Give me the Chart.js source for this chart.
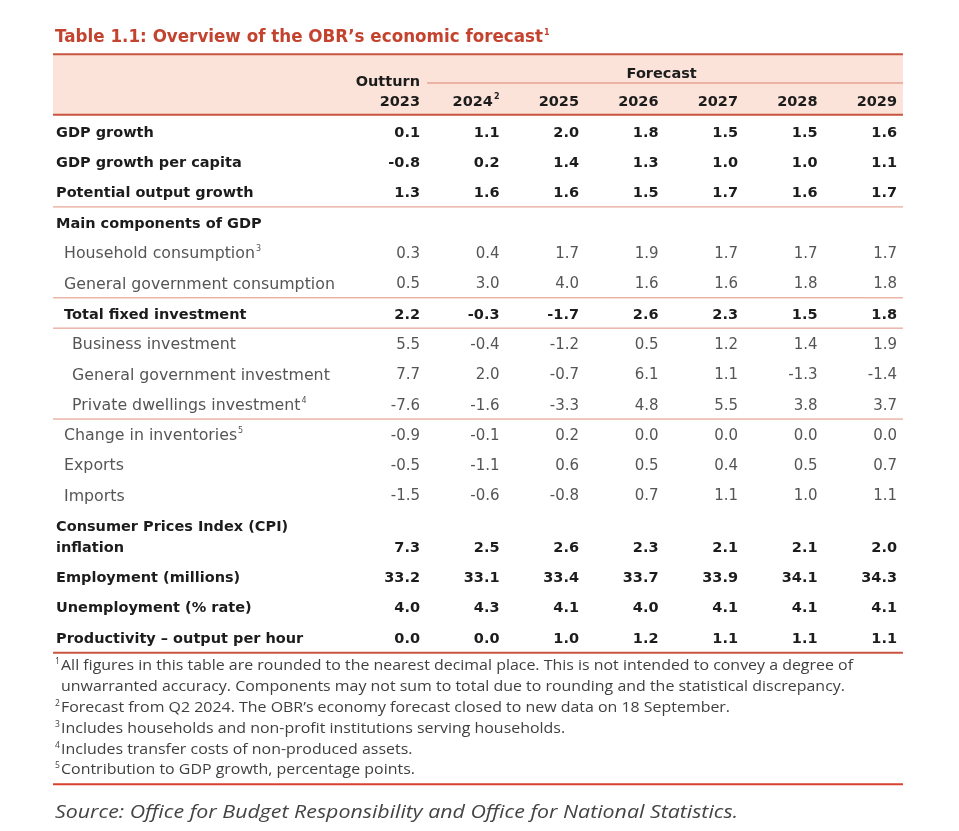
<!DOCTYPE html>
<html><head><meta charset="utf-8">
<script src="https://cdn.jsdelivr.net/npm/chart.js@4/dist/chart.umd.min.js"></script>
<style>html,body{margin:0;padding:0;background:#fff}#wrap{width:959px;height:831px;position:relative}</style>
</head><body><div id="wrap"><canvas id="c"></canvas></div>
<script>
// ---------- DATA ----------
const years = ['2023','2024','2025','2026','2027','2028','2029'];
const yearNotes = ['','2','','','','',''];
const rowLabels = [
  'GDP growth','GDP growth per capita','Potential output growth','Main components of GDP',
  'Household consumption','General government consumption','Total fixed investment',
  'Business investment','General government investment','Private dwellings investment',
  'Change in inventories','Exports','Imports','Consumer Prices Index (CPI)\ninflation',
  'Employment (millions)','Unemployment (% rate)','Productivity \u2013 output per hour'
];
const rowNotes = ['','','','','3','','','','','4','5','','','','','',''];
const gdpGrowth       = [0.1, 1.1, 2.0, 1.8, 1.5, 1.5, 1.6];
const gdpPerCapita    = [-0.8, 0.2, 1.4, 1.3, 1.0, 1.0, 1.1];
const potentialOutput = [1.3, 1.6, 1.6, 1.5, 1.7, 1.6, 1.7];
const householdCons   = [0.3, 0.4, 1.7, 1.9, 1.7, 1.7, 1.7];
const govConsumption  = [0.5, 3.0, 4.0, 1.6, 1.6, 1.8, 1.8];
const totalFixedInv   = [2.2, -0.3, -1.7, 2.6, 2.3, 1.5, 1.8];
const businessInv     = [5.5, -0.4, -1.2, 0.5, 1.2, 1.4, 1.9];
const govInvestment   = [7.7, 2.0, -0.7, 6.1, 1.1, -1.3, -1.4];
const dwellingsInv    = [-7.6, -1.6, -3.3, 4.8, 5.5, 3.8, 3.7];
const inventories     = [-0.9, -0.1, 0.2, 0.0, 0.0, 0.0, 0.0];
const exportsGrowth   = [-0.5, -1.1, 0.6, 0.5, 0.4, 0.5, 0.7];
const importsGrowth   = [-1.5, -0.6, -0.8, 0.7, 1.1, 1.0, 1.1];
const cpiInflation    = [7.3, 2.5, 2.6, 2.3, 2.1, 2.1, 2.0];
const employment      = [33.2, 33.1, 33.4, 33.7, 33.9, 34.1, 34.3];
const unemployment    = [4.0, 4.3, 4.1, 4.0, 4.1, 4.1, 4.1];
const productivity    = [0.0, 0.0, 1.0, 1.2, 1.1, 1.1, 1.1];
const rowSeries = [gdpGrowth, gdpPerCapita, potentialOutput, null, householdCons, govConsumption,
  totalFixedInv, businessInv, govInvestment, dwellingsInv, inventories, exportsGrowth,
  importsGrowth, cpiInflation, employment, unemployment, productivity];
const titleText = 'Table 1.1: Overview of the OBR\u2019s economic forecast';
const footnotes = [
  ['1','All figures in this table are rounded to the nearest decimal place. This is not intended to convey a degree of'],
  ['','unwarranted accuracy. Components may not sum to total due to rounding and the statistical discrepancy.'],
  ['2','Forecast from Q2 2024. The OBR\u2019s economy forecast closed to new data on 18 September.'],
  ['3','Includes households and non-profit institutions serving households.'],
  ['4','Includes transfer costs of non-produced assets.'],
  ['5','Contribution to GDP growth, percentage points.']
];
const sourceText = 'Source: Office for Budget Responsibility and Office for National Statistics.';

// ---------- STYLE ----------
const rowBold   = [1,1,1,1,0,0,1,0,0,0,0,0,0,1,1,1,1];
const rowIndent = [0,0,0,0,1,1,1,2,2,2,1,1,1,0,0,0,0];
const rulesAfter = [2,5,6,9];
const LINE_STEP = 0.7;
const RED = '#c4432f', RULE_RED = '#c9543f', THIN = '#e0907e', HEAD_BG = '#fbe3d9';
const DARK = '#1c1c1c', GREY = '#555555', FOOT = '#3f3f3f';
const F_BOLD = 'bold 14.5px "DejaVu Sans"';
const F_REG = '15px "DejaVu Sans"';
const F_REG_LAB = '15.8px "DejaVu Sans"';
const U = { title:-3.14, forecast:-1.95, outturn:-1.68, fLine:-1.65, years:-1.02,
  headTop:-2.6, headBot:-0.6, foot0:17.59, footStep:0.687, footRule:21.49, source:22.44 };

// row layout (units of the row axis)
const rowPos = []; let u = 0;
rowLabels.forEach((l) => {
  const n = l.split('\n').length;
  const top = u, val = u + LINE_STEP * (n - 1);
  rowPos.push({top, val}); u = val + 1;
});

const datasets = [];
rowSeries.forEach((s, r) => {
  if (!s) return;
  datasets.push({
    label: rowLabels[r].replace('\n',' '), rowIndex: r,
    data: s.map((v, i) => ({x: i, y: rowPos[r].val, v})),
    pointRadius: 0, pointHoverRadius: 0, showLine: false
  });
});

function txt(ctx, s, x, y, font, color, align, fitW) {
  ctx.save(); ctx.font = font; ctx.fillStyle = color; ctx.textBaseline = 'middle';
  ctx.textAlign = align || 'left';
  if (fitW) {
    const w = ctx.measureText(s).width; const k = fitW / w;
    ctx.translate(x, y); ctx.scale(k, 1); ctx.fillText(s, 0, 0);
  } else ctx.fillText(s, x, y);
  ctx.restore();
}
function hline(ctx, x1, x2, y, color, w) {
  ctx.save(); ctx.strokeStyle = color; ctx.lineWidth = w; ctx.beginPath();
  ctx.moveTo(x1, y); ctx.lineTo(x2, y); ctx.stroke(); ctx.restore();
}
const fmt = (v) => v.toFixed(1);

const tablePlugin = {
  id: 'table',
  afterDraw(chart) {
    const ctx = chart.ctx, xs = chart.scales.x, ys = chart.scales.y;
    const Y = (v) => ys.getPixelForValue(v), X = (v) => xs.getPixelForValue(v);
    const L = X(-4.616), R = X(6.075);
    // title
    const tw = 488;
    txt(ctx, titleText, L + 2, Y(U.title), 'bold 17.5px "DejaVu Sans"', RED, 'left', tw);
    txt(ctx, '1', L + 2 + tw + 1, Y(U.title) - 5, 'bold 8px "DejaVu Sans"', RED, 'left');
    // header
    ctx.fillStyle = HEAD_BG; ctx.fillRect(L, Y(U.headTop), R - L, Y(U.headBot) - Y(U.headTop));
    hline(ctx, L, R, Y(U.headTop), RULE_RED, 2);
    hline(ctx, L, R, Y(U.headBot), RULE_RED, 2);
    txt(ctx, 'Forecast', X(3.04), Y(U.forecast), F_BOLD, DARK, 'center');
    txt(ctx, 'Outturn', X(0), Y(U.outturn), F_BOLD, DARK, 'right');
    hline(ctx, X(0.088), R, Y(U.fLine), '#d98370', 1);
    years.forEach((yr, i) => {
      let x = X(i);
      if (yearNotes[i]) {
        ctx.font = 'bold 8px "DejaVu Sans"'; const nw = ctx.measureText(yearNotes[i]).width;
        txt(ctx, yearNotes[i], x, Y(U.years) - 5, 'bold 8px "DejaVu Sans"', DARK, 'right');
        x -= nw + 1;
      }
      txt(ctx, yr, x, Y(U.years), F_BOLD, DARK, 'right');
    });
    // row labels
    const indentPx = [3, 11, 19];
    rowLabels.forEach((lab, r) => {
      const font = rowBold[r] ? F_BOLD : F_REG_LAB, col = rowBold[r] ? DARK : GREY;
      const lines = lab.split('\n'); const x0 = L + indentPx[rowIndent[r]];
      lines.forEach((ln, k) => txt(ctx, ln, x0, Y(rowPos[r].top + k * LINE_STEP), font, col, 'left'));
      if (rowNotes[r]) {
        ctx.font = font; const w = ctx.measureText(lines[lines.length-1]).width;
        txt(ctx, rowNotes[r], x0 + w + 1, Y(rowPos[r].val) - 5, '8px "DejaVu Sans"', col, 'left');
      }
    });
    // values from dataset elements
    chart.data.datasets.forEach((ds, di) => {
      const meta = chart.getDatasetMeta(di); const r = ds.rowIndex;
      const font = rowBold[r] ? F_BOLD : F_REG, col = rowBold[r] ? DARK : GREY;
      meta.data.forEach((el, i) => txt(ctx, fmt(ds.data[i].v), el.x, el.y, font, col, 'right'));
    });
    // rules
    rulesAfter.forEach((r) => hline(ctx, L, R, Y(rowPos[r].val + 0.44), THIN, 1));
    hline(ctx, L, R, Y(rowPos[rowPos.length - 1].val + 0.45), RULE_RED, 2);
    // footnotes
    ctx.font = '15px "Open Sans"';
    const k = 792 / ctx.measureText(footnotes[0][1]).width;
    footnotes.forEach((f, i) => {
      const y = Y(U.foot0 + i * U.footStep);
      if (f[0]) txt(ctx, f[0], L + 2, y - 4, '8.5px "Open Sans"', FOOT, 'left');
      ctx.save(); ctx.font = '15px "Open Sans"'; ctx.fillStyle = FOOT; ctx.textBaseline = 'middle';
      ctx.translate(L + 8, y); ctx.scale(k, 1); ctx.fillText(f[1], 0, 0); ctx.restore();
    });
    hline(ctx, L, R, Y(U.footRule), '#d8402f', 2);
    txt(ctx, sourceText, L + 2, Y(U.source), 'italic 18px "Open Sans"', '#444', 'left', 683);
  }
};

new Chart(document.getElementById('c'), {
  type: 'scatter',
  data: { datasets },
  options: {
    responsive: true, maintainAspectRatio: false, animation: false,
    events: [],
    layout: { padding: { left: 420, right: 62, top: 11.8, bottom: 1.1 } },
    plugins: { legend: { display: false }, tooltip: { enabled: false } },
    scales: {
      x: { type: 'linear', min: 0, max: 6, display: false },
      y: { type: 'linear', min: -4, max: 23, reverse: true, display: false }
    }
  },
  plugins: [tablePlugin]
});
</script></body></html>
